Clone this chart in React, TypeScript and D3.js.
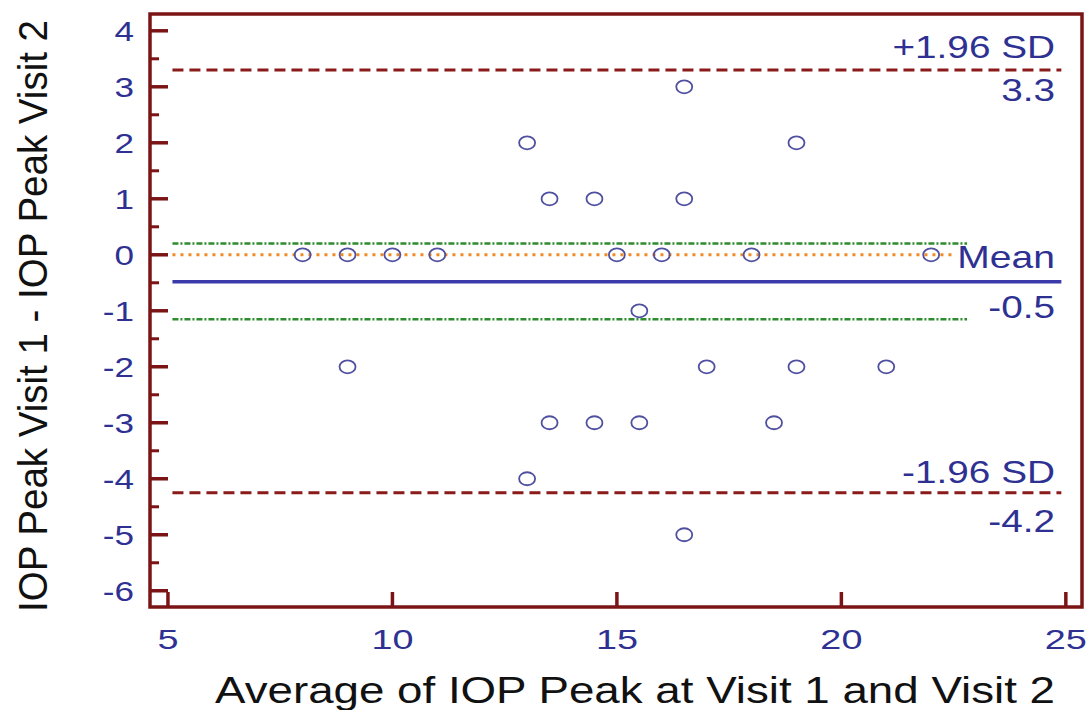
import React from "react";
import * as d3 from "d3";

// ---- Data ----
const avgValues = [8, 9, 10, 11, 15, 16, 18, 22, 13, 13.5, 14.5, 16.5, 16.5, 19, 15.5, 9, 17, 19, 21, 13.5, 14.5, 15.5, 18.5, 13, 16.5];
const diffValues = [0, 0, 0, 0, 0, 0, 0, 0, 2, 1, 1, 3, 1, 2, -1, -2, -2, -2, -2, -3, -3, -3, -3, -4, -5];
const meanDiff = -0.48;
const upperLoA = 3.3;
const lowerLoA = -4.25;
const meanCI = [0.2, -1.15];
const zeroLine = 0;
const xTicks = [5, 10, 15, 20, 25];
const yTicks = [-6, -5, -4, -3, -2, -1, 0, 1, 2, 3, 4];
const yMinorTicks = [-5.5, -4.5, -3.5, -2.5, -1.5, -0.5, 0.5, 1.5, 2.5, 3.5];
const lineExtent = [5.1, 24.9];
const ciExtent = [5.1, 22.8];
const zeroExtent = [5.1, 22.5];
const upperLabels = ["+1.96 SD", "3.3"];
const meanLabels = ["Mean", "-0.5"];
const lowerLabels = ["-1.96 SD", "-4.2"];
const xTitle = "Average of IOP Peak at Visit 1 and Visit 2";
const yTitle = "IOP Peak Visit 1 - IOP Peak Visit 2";

const W = 1089;
const H = 710;
const frame = { left: 150, right: 1082, top: 14, bottom: 607 };
const FONT = "'Liberation Sans', Arial, sans-serif";
const AXIS = "#7b1515";
const TXT = "#2e3192";

const x = d3.scaleLinear().domain([4.6, 25.36]).range([frame.left, frame.right]);
const y = d3.scaleLinear().domain([-6.29, 4.3]).range([frame.bottom, frame.top]);

function SText({ px, py, sx = 1.3, anchor = "start", size = 30, fill = TXT, children }: any) {
  return (
    <text
      transform={`translate(${px},${py}) scale(${sx},1)`}
      textAnchor={anchor}
      fontSize={size}
      fontFamily={FONT}
      fill={fill}
    >
      {children}
    </text>
  );
}

export default function App() {
  const labelX = 1055;
  const hline = (v: number, ext: number[], stroke: string, dash: string, sw: number) => (
    <line x1={x(ext[0])} x2={x(ext[1])} y1={y(v)} y2={y(v)} stroke={stroke} strokeWidth={sw} strokeDasharray={dash} />
  );
  return (
    <svg width={W} height={H} style={{ position: "absolute", left: 0, top: 0, background: "#fff" }}>
      {/* reference lines */}
      {hline(meanCI[0], ciExtent, "#2e8b2e", "6,2,2,2", 2.5)}
      {hline(meanCI[1], ciExtent, "#2e8b2e", "6,2,2,2", 2.5)}
      {hline(zeroLine, zeroExtent, "#f08a24", "3,5", 3)}
      {hline(meanDiff, lineExtent, "#3a3aaa", "", 3.5)}
      {hline(upperLoA, lineExtent, "#8b1a1a", "11,6", 3)}
      {hline(lowerLoA, lineExtent, "#8b1a1a", "11,6", 3)}

      {/* points */}
      {avgValues.map((a, i) => (
        <ellipse key={i} cx={x(a)} cy={y(diffValues[i])} rx={8} ry={6.5} fill="none" stroke="#5050a0" strokeWidth={1.8} />
      ))}

      {/* frame */}
      <rect x={frame.left} y={frame.top} width={frame.right - frame.left} height={frame.bottom - frame.top} fill="none" stroke={AXIS} strokeWidth={3.5} />

      {/* y ticks */}
      {yTicks.map((t) => (
        <g key={"y" + t}>
          <line x1={frame.left} x2={frame.left + 18} y1={y(t)} y2={y(t)} stroke={AXIS} strokeWidth={3.5} />
          <SText px={134} py={y(t) + 10} anchor="end" size={27} sx={1.3}>{t}</SText>
        </g>
      ))}
      {yMinorTicks.map((t) => (
        <line key={"ym" + t} x1={frame.left} x2={frame.left + 9} y1={y(t)} y2={y(t)} stroke={AXIS} strokeWidth={3} />
      ))}

      {/* x ticks */}
      {xTicks.map((t) => (
        <g key={"x" + t}>
          <line x1={x(t)} x2={x(t)} y1={frame.bottom} y2={frame.bottom - 15} stroke={AXIS} strokeWidth={3.5} />
          <SText px={x(t)} py={649} anchor="middle" size={28} sx={1.35}>{t}</SText>
        </g>
      ))}

      {/* right labels */}
      <SText px={labelX} py={y(upperLoA) - 12} anchor="end" size={31} sx={1.25}>{upperLabels[0]}</SText>
      <SText px={labelX} py={y(upperLoA) + 31} anchor="end" size={31} sx={1.25}>{upperLabels[1]}</SText>
      <SText px={labelX} py={y(meanDiff) - 14} anchor="end" size={32} sx={1.22}>{meanLabels[0]}</SText>
      <SText px={labelX} py={y(meanDiff) + 36} anchor="end" size={31} sx={1.25}>{meanLabels[1]}</SText>
      <SText px={labelX} py={y(lowerLoA) - 10} anchor="end" size={31} sx={1.25}>{lowerLabels[0]}</SText>
      <SText px={labelX} py={y(lowerLoA) + 39} anchor="end" size={31} sx={1.25}>{lowerLabels[1]}</SText>

      {/* axis titles */}
      <text x={215} y={703} fontSize={36} fontFamily={FONT} fill="#111" textLength={840} lengthAdjust="spacingAndGlyphs">
        {xTitle}
      </text>
      <g transform="translate(47,316) scale(1.12,1) rotate(-90)">
        <text x={0} y={0} textAnchor="middle" fontSize={37} fontFamily={FONT} fill="#111" textLength={592} lengthAdjust="spacingAndGlyphs">
          {yTitle}
        </text>
      </g>
    </svg>
  );
}
